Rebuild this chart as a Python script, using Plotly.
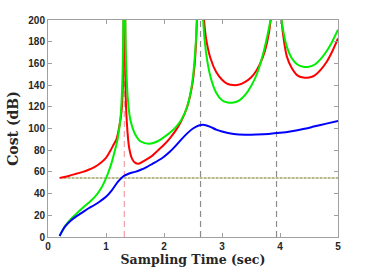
import plotly.graph_objects as go

# ---- data ----
blue_x = [0.2, 0.25, 0.3, 0.4, 0.5, 0.6, 0.7, 0.8, 0.9, 1.0, 1.1, 1.2, 1.3, 1.4, 1.5, 1.6,
          1.7, 1.8, 1.9, 2.0, 2.1, 2.2, 2.3, 2.4, 2.5, 2.6, 2.7, 2.8, 2.9, 3.0, 3.2, 3.4,
          3.6, 3.8, 4.0, 4.2, 4.4, 4.6, 4.8, 5.0]
blue_y = [1, 6, 10, 15.5, 19.5, 23, 26.5, 29.5, 33, 37, 43, 50.5, 56, 58.5, 60, 62,
          64.5, 67.5, 70.5, 74, 78.5, 84, 90, 95.5, 100, 102.8, 103.3, 101.5, 99, 97.2, 95, 94.3,
          94.5, 95, 96, 97.5, 99.5, 102, 104.5, 107]

green_x = [0.2, 0.3, 0.4, 0.5, 0.6, 0.7, 0.8, 0.9, 1.0, 1.05, 1.1, 1.15, 1.2, 1.25, 1.28,
           1.3, 1.316, 1.332, 1.35, 1.38, 1.42, 1.5, 1.6, 1.75, 1.9, 2.0, 2.1, 2.2, 2.3,
           2.4, 2.48, 2.53, 2.57, 2.63, 2.67, 2.72, 2.8, 2.9, 3.0, 3.1, 3.2, 3.3, 3.4,
           3.5, 3.6, 3.7, 3.78, 3.84, 3.88, 3.94, 4.0, 4.05, 4.12, 4.2, 4.3, 4.4, 4.5,
           4.6, 4.7, 4.8, 4.9, 5.0]
green_y = [1, 10.5, 17, 22, 27, 31.5, 36.5, 43.5, 54, 61, 69, 79, 90, 110, 140,
           200, 600, 200, 155, 125, 108, 95, 88, 86, 88.5, 92, 96, 101, 108,
           120, 140, 165, 205, 600, 205, 172, 148, 133, 126, 124, 124, 126, 131,
           139, 150, 167, 185, 202, 240, 600, 215, 192, 175, 165, 159, 157, 157,
           159, 164, 171, 180, 191]

red_x = [0.2, 0.3, 0.4, 0.5, 0.6, 0.7, 0.8, 0.9, 1.0, 1.07, 1.12, 1.18, 1.23, 1.27, 1.295,
         1.316, 1.335, 1.36, 1.4, 1.45, 1.5, 1.56, 1.65, 1.8, 1.9, 2.0, 2.1, 2.2, 2.3,
         2.4, 2.48, 2.53, 2.57, 2.63, 2.68, 2.72, 2.8, 2.9, 3.0, 3.1, 3.2, 3.3, 3.4,
         3.5, 3.6, 3.7, 3.78, 3.84, 3.88, 3.94, 4.02, 4.07, 4.12, 4.2, 4.3, 4.4, 4.5,
         4.6, 4.7, 4.8, 4.9, 5.0]
red_y = [54.5, 55.5, 57, 58.5, 60, 62, 64.5, 68, 73, 79, 84, 90, 102, 117, 150,
         600, 140, 105, 82, 72, 68.5, 67.5, 70, 75, 80, 85, 91, 98, 107,
         120, 138, 160, 205, 600, 210, 185, 165, 152, 145, 141, 140, 140.5, 143,
         147, 154, 165, 180, 200, 240, 600, 205, 180, 166, 156, 149, 147, 147,
         149, 154, 161, 171, 183]

ref_level = 54.4
ref_x = [0.2, 5.0]
resonance_pink = [1.316]
resonance_gray = [2.63, 3.94]

x_ticks = [0, 1, 2, 3, 4, 5]
y_ticks = [0, 20, 40, 60, 80, 100, 120, 140, 160, 180, 200]

fig = go.Figure()

# vertical dashed guide lines
for xv in resonance_pink:
    fig.add_trace(go.Scatter(x=[xv, xv], y=[0, 200], mode="lines",
                             line=dict(color="#f0a0a8", width=1.2, dash="6px,4px"),
                             showlegend=False, hoverinfo="skip"))
for xv in resonance_gray:
    fig.add_trace(go.Scatter(x=[xv, xv], y=[0, 200], mode="lines",
                             line=dict(color="#8c8c8c", width=1.2, dash="6px,4px"),
                             showlegend=False, hoverinfo="skip"))

# horizontal reference level
fig.add_trace(go.Scatter(x=ref_x, y=[ref_level, ref_level], mode="lines",
                         line=dict(color="#a3a36a", width=1.3, dash="3px,1px"),
                         showlegend=False, hoverinfo="skip"))

spline = dict(shape="spline", smoothing=0.8)
fig.add_trace(go.Scatter(x=red_x, y=red_y, mode="lines",
                         line=dict(color="#ff0000", width=2, **spline), showlegend=False))
fig.add_trace(go.Scatter(x=green_x, y=green_y, mode="lines",
                         line=dict(color="#00ee00", width=2, **spline), showlegend=False))
fig.add_trace(go.Scatter(x=blue_x, y=blue_y, mode="lines",
                         line=dict(color="#0000ff", width=2, **spline), showlegend=False))

axis_common = dict(showgrid=False, zeroline=False, showline=True, linecolor="#a0a0a0",
                   linewidth=1, mirror="ticks", ticks="inside", ticklen=4,
                   tickcolor="#a0a0a0", automargin=False,
                   tickfont=dict(family="Liberation Sans", size=10, color="#262626",
                                 weight="bold"))

fig.update_layout(
    width=374, height=269,
    margin=dict(l=48, r=36, t=20, b=32),
    paper_bgcolor="white", plot_bgcolor="white",
    xaxis=dict(range=[0, 5], tickvals=x_ticks, **axis_common,
               title=dict(text="Sampling Time (sec)", standoff=2,
                          font=dict(family="DejaVu Serif", size=12.5, color="#262626",
                                    weight="bold"))),
    yaxis=dict(range=[0, 200], tickvals=y_ticks, **axis_common,
               title=dict(text="Cost (dB)", standoff=6,
                          font=dict(family="DejaVu Serif", size=14, color="#262626",
                                    weight="bold"))),
)

fig.write_html("out.html", config={"displayModeBar": False},
               post_script="document.body.style.margin='0';document.body.style.overflow='hidden';")
